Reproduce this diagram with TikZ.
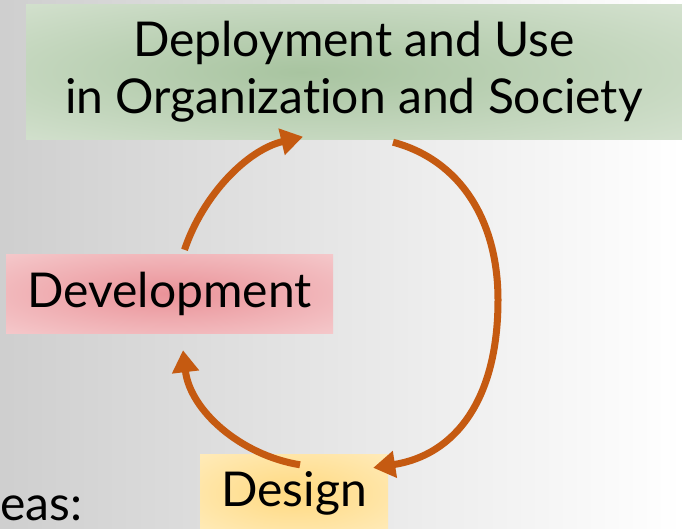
\documentclass[tikz,border=0pt]{standalone}
\usepackage{fontspec}
\setmainfont[Ligatures=NoCommon]{Lato}
\usetikzlibrary{arrows.meta,calc}

\definecolor{cycorange}{RGB}{197,90,17}
\definecolor{deployin}{RGB}{168,196,160}
\definecolor{deployout}{RGB}{228,236,224}
\definecolor{devin}{RGB}{234,146,152}
\definecolor{devout}{RGB}{249,222,223}
\definecolor{desin}{RGB}{255,217,128}
\definecolor{desout}{RGB}{255,242,208}
\pgfdeclareradialshading{deployglow}{\pgfpoint{-4bp}{0bp}}{color(0bp)=(deployin); color(50bp)=(deployout)}
\pgfdeclareradialshading{devglow}{\pgfpoint{0bp}{0bp}}{color(0bp)=(devin); color(50bp)=(devout)}
\pgfdeclareradialshading{desglow}{\pgfpoint{0bp}{0bp}}{color(0bp)=(desin); color(50bp)=(desout)}

\begin{document}
\begin{tikzpicture}[x=1pt,y=-1pt,
  phase/.style={inner sep=0pt,align=center,shade,font=\fontsize{48}{57}\selectfont},
  cyc/.style={cycorange,line width=7pt,-{Triangle[length=22pt,width=26pt]}}]
\useasboundingbox (0,0) rectangle (682,529);
\shade[left color=black!19,right color=white] (0,0) rectangle (682,529);

\node[phase,shading=deployglow,minimum width=656pt,minimum height=135pt] (deploy) at (354,72) {Deployment and Use\\in Organization and Society};
\node[phase,shading=devglow,minimum width=327pt,minimum height=79pt] (dev) at (169.5,293.5) {Development};
\node[phase,shading=desglow,minimum width=188pt,minimum height=78pt] (des) at (294,493) {Design};
\node[anchor=base west,inner sep=0pt,font=\fontsize{48}{57}\selectfont] (areas) at (0,520) {eas:};

\draw[cyc] ($(dev.north)+(15,-4)$) .. controls (203,195) and (247,150) .. ($(deploy.south)+(-51,-3)$);%up
\draw[cyc] ($(deploy.south)+(39,2.5)$) .. controls (460,160) and (498,220) .. (498,300)
  .. controls (498,400) and (455,455) .. ($(des.north east)+(-15,14)$);%down
\draw[cyc] ($(des.north)+(6,11)$) .. controls (240,455) and (190,410) .. ($(dev.south)+(13.5,17)$);%back
\end{tikzpicture}
\end{document}
